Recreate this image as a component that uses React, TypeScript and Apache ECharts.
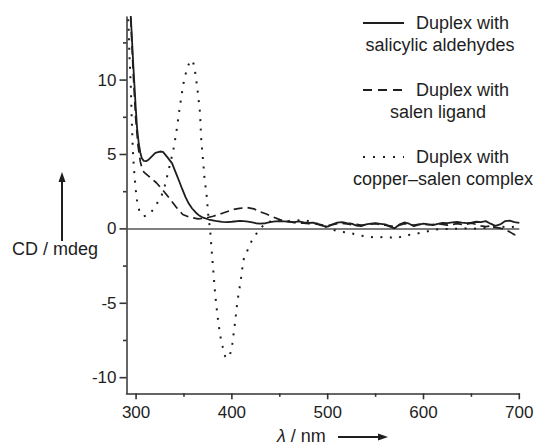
import React, { useEffect, useRef } from "react";
import * as echarts from "echarts";

// wavelength (nm), CD (mdeg)
const salicylicData: [number, number][] = [
  [292, 17], [294.5, 14.26], [297.2, 10.9], [299.5, 8.3], [301, 6.8], [302.8, 5.74], [304.5, 5.1], [306, 4.75],
  [308, 4.57], [310.5, 4.55], [313.3, 4.67], [316.5, 4.88], [320.1, 5.11], [325, 5.2], [328, 5.18], [332.4, 4.84],
  [337.6, 4.4], [341, 3.85], [344.6, 3.27], [348, 2.7], [351.5, 2.15], [355, 1.7], [358.5, 1.37], [362, 1.12],
  [365.4, 0.92], [370, 0.75], [375.9, 0.63], [382.8, 0.54], [389.8, 0.47], [395, 0.45], [400, 0.48], [408.6, 0.54],
  [415, 0.5], [420, 0.45], [425, 0.38], [429.4, 0.36], [435, 0.38], [440, 0.45], [445, 0.5],
  [450, 0.52], [455, 0.5], [460, 0.48], [465, 0.46], [470, 0.5], [475, 0.44], [480, 0.4], [485, 0.42], [490, 0.3],
  [495, 0.2], [500, 0.15], [505, 0.3], [510, 0.42], [515, 0.45], [520, 0.38], [525, 0.35], [530, 0.22], [535, 0.18],
  [540, 0.3], [545, 0.36], [550, 0.38], [555, 0.34], [560, 0.3], [565, 0.15], [570, 0.04], [575, 0.3], [580, 0.43],
  [585, 0.35], [590, 0.18], [595, 0.28], [600, 0.36], [605, 0.3], [610, 0.25], [615, 0.33], [620, 0.4], [625, 0.38],
  [630, 0.44], [635, 0.47], [640, 0.42], [645, 0.38], [650, 0.42], [655, 0.48], [660, 0.45], [665, 0.52], [670, 0.35],
  [675, 0.2], [680, 0.3], [685, 0.52], [690, 0.55], [695, 0.45], [700, 0.4],
];

const salenData: [number, number][] = [
  [292, 17], [294.5, 14], [297, 10.5], [299.5, 7.5], [302, 5.6], [304.5, 4.5], [306.5, 4.0], [308.4, 3.8],
  [315, 3.45], [321.2, 3.1], [328, 2.6], [335, 2.04], [342, 1.45], [348.7, 0.97], [356, 0.78], [364.7, 0.67],
  [372, 0.72], [380.4, 0.85], [390, 1.05], [401.3, 1.3], [408, 1.38], [415.9, 1.44], [423, 1.35], [429.4, 1.15],
  [436, 1.0], [443, 0.8], [450, 0.62], [455, 0.52],
  [460, 0.48], [465, 0.42], [470, 0.4], [475, 0.38], [480, 0.35], [485, 0.36], [490, 0.32], [495, 0.25], [500, 0.22],
  [505, 0.28], [510, 0.35], [515, 0.38], [520, 0.33], [525, 0.28], [530, 0.3], [535, 0.25], [540, 0.28], [545, 0.32],
  [550, 0.35], [555, 0.28], [560, 0.25], [565, 0.2], [570, 0.15], [575, 0.25], [580, 0.35], [585, 0.3], [590, 0.25],
  [595, 0.3], [600, 0.32], [605, 0.28], [610, 0.3], [615, 0.35], [620, 0.3], [625, 0.25], [630, 0.3], [635, 0.35],
  [640, 0.3], [645, 0.32], [650, 0.38], [655, 0.3], [660, 0.2], [665, 0.15], [670, 0.2], [675, 0.1], [680, 0.05],
  [685, -0.05], [690, -0.2], [695, -0.4], [700, -0.25],
];

const copperData: [number, number][] = [
  [290, 16], [292, 13.8], [293, 11.8], [294.5, 9.55], [295.5, 7.3], [296.6, 5.3], [297.9, 3.95], [299.7, 2.6],
  [301.4, 1.7], [304.2, 1.03], [308, 0.85], [312.8, 0.92], [316, 1.15], [319.8, 1.48], [323, 1.85], [326.8, 2.27],
  [330, 2.9], [332.7, 3.6], [336, 4.5], [338.9, 5.3], [341.8, 6.4], [345.2, 7.98], [348, 9.2], [350.1, 10.0],
  [352.9, 10.7], [355.5, 11.15], [358.1, 11.35], [360, 11.1], [361.6, 10.56], [363, 9.9], [364.4, 9.2], [366.8, 7.76],
  [367.8, 6.19], [369.6, 4.84], [371.3, 3.5], [373.8, 2.15], [375.5, 0.8], [377.2, 0], [379, -1.55], [380.7, -2.9],
  [382.5, -4.35], [384.9, -5.8], [387.7, -7.15], [390.5, -7.94], [392.9, -8.56], [395.5, -8.7], [398.1, -8.45],
  [400.5, -7.7], [403.3, -6.3], [405.7, -4.9], [409.3, -3.45], [412, -2.1], [417.2, -1.3], [421.8, -0.65],
  [429.4, 0], [436, 0.45], [445, 0.55], [455, 0.5], [465, 0.55], [475, 0.6], [485, 0.45], [495, 0.2], [505, -0.05],
  [513, -0.2], [521.6, -0.24], [532, -0.42], [542.5, -0.53], [551, -0.58], [561.6, -0.53], [571.4, -0.64],
  [581.8, -0.42], [591.2, -0.35], [601.6, -0.2], [612, -0.05], [621, 0.0], [630, -0.02], [640, 0.05], [650, 0.0],
  [660, 0.05], [670, 0.1], [680, 0.15], [690, 0.1], [700, 0.2],
];

// axis ranges and tick sets
const X_MIN = 290, X_MAX = 700;
const Y_MIN = -11.05, Y_MAX = 14.24;
const xMajorTicks = [300, 400, 500, 600, 700];
const xMinorTicks = [350, 450, 550, 650];
const yMajorTicks = [-10, -5, 0, 5, 10];
const yMinorTicks = [-7.5, -2.5, 2.5, 7.5, 12.5];

const legendLine1 = "Duplex with";
const legendLine2 = ["salicylic aldehydes", "salen ligand", "copper\u2013salen complex"];

const FONT = "'Liberation Sans', Arial, sans-serif";
const INK = "#1e1e1e";
const AXIS = "#333";

const W = 537, H = 446;
const G = { left: 126.5, right: 17.7, top: 17, bottom: 52.7 };
const MAJOR_X = 6, MINOR_X = 3.5, MAJOR_Y = 7, MINOR_Y = 3.5;

export default function App() {
  const ref = useRef<HTMLDivElement>(null);
  useEffect(() => {
    if (!ref.current) return;
    const chart = echarts.init(ref.current, null, { renderer: "svg" });

    const lineBase = { type: "line", showSymbol: false, symbol: "none", xAxisIndex: 0, yAxisIndex: 0, smooth: false };
    const legendYs = [23, 90, 157];
    const legendDash: any[] = [null, [9, 6], [2, 8]];
    const legendCenters = [440, 438, 443];
    const graphics: any[] = [];
    legendYs.forEach((y, i) => {
      graphics.push({
        type: "line",
        shape: { x1: 363, y1: y, x2: 404, y2: y },
        style: { stroke: INK, lineWidth: i === 2 ? 2 : 1.8, lineDash: legendDash[i] || undefined },
      });
      graphics.push({
        type: "text",
        x: 416,
        y: y,
        style: { text: legendLine1, font: `18px ${FONT}`, fill: INK, verticalAlign: "middle", align: "left" },
      });
      graphics.push({
        type: "text",
        x: legendCenters[i],
        y: y + 22,
        style: { text: legendLine2[i], font: `18px ${FONT}`, fill: INK, verticalAlign: "middle", align: "center" },
      });
    });
    // y axis name with arrow
    graphics.push({
      type: "text",
      x: 12,
      y: 249,
      style: { text: "CD / mdeg", font: `18px ${FONT}`, fill: INK, verticalAlign: "middle", align: "left" },
    });
    graphics.push({ type: "line", shape: { x1: 62, y1: 241, x2: 62, y2: 180 }, style: { stroke: INK, lineWidth: 2 } });
    graphics.push({ type: "polygon", shape: { points: [[58.5, 182], [62, 172], [65.5, 182]] }, style: { fill: INK } });
    // x axis name with arrow
    graphics.push({
      type: "text",
      x: 277,
      y: 436,
      style: {
        text: "{i|\u03bb} / nm",
        font: `18px ${FONT}`,
        fill: INK,
        verticalAlign: "middle",
        align: "left",
        rich: { i: { fontStyle: "italic", fontSize: 18, fontFamily: FONT, fill: INK } },
      },
    });
    graphics.push({ type: "line", shape: { x1: 338, y1: 437, x2: 380, y2: 437 }, style: { stroke: INK, lineWidth: 2 } });
    graphics.push({ type: "polygon", shape: { points: [[378, 433.5], [388, 437], [378, 440.5]] }, style: { fill: INK } });

    const xTickData = [...xMajorTicks.map((v) => [v, MAJOR_X]), ...xMinorTicks.map((v) => [v, MINOR_X])];
    const yTickData = [...yMajorTicks.map((v) => [v, MAJOR_Y]), ...yMinorTicks.map((v) => [v, MINOR_Y])];

    chart.setOption({
      animation: false,
      backgroundColor: "#ffffff",
      grid: { left: G.left, right: G.right, top: G.top, bottom: G.bottom, containLabel: false },
      xAxis: {
        type: "value", min: X_MIN, max: X_MAX, position: "bottom",
        axisLine: { show: true, onZero: false, lineStyle: { color: AXIS, width: 1.5 } },
        axisTick: { show: false },
        axisLabel: { show: true, customValues: xMajorTicks, margin: 11, fontSize: 17, fontFamily: FONT, color: INK },
        splitLine: { show: false },
      },
      yAxis: {
        type: "value", min: Y_MIN, max: Y_MAX, position: "left",
        axisLine: { show: true, onZero: false, lineStyle: { color: AXIS, width: 1.5 } },
        axisTick: { show: false },
        axisLabel: { show: true, customValues: yMajorTicks, margin: 10, fontSize: 17, fontFamily: FONT, color: INK },
        splitLine: { show: false },
      },
      series: [
        {
          ...lineBase,
          name: "Duplex with salicylic aldehydes",
          data: salicylicData,
          lineStyle: { color: INK, width: 1.8, type: "solid" },
          z: 4,
          markLine: {
            silent: true,
            symbol: "none",
            label: { show: false },
            lineStyle: { color: "#555", width: 1.6, type: "solid" },
            data: [{ yAxis: 0 }],
            z: 1,
          },
        },
        {
          ...lineBase,
          name: "Duplex with salen ligand",
          data: salenData,
          lineStyle: { color: INK, width: 1.7, type: [9, 5] },
          z: 3,
        },
        {
          ...lineBase,
          name: "Duplex with copper-salen complex",
          data: copperData,
          lineStyle: { color: INK, width: 2, type: [2, 7.5] },
          z: 3,
        },
        {
          type: "custom",
          name: "xTicks",
          silent: true,
          clip: false,
          data: xTickData,
          encode: { x: 0 },
          renderItem: (_p: any, api: any) => {
            const pt = api.coord([api.value(0), Y_MIN]);
            return {
              type: "line",
              shape: { x1: pt[0], y1: pt[1], x2: pt[0], y2: pt[1] + api.value(1) },
              style: { stroke: AXIS, lineWidth: 1.6, fill: null },
            };
          },
        },
        {
          type: "custom",
          name: "yTicks",
          silent: true,
          clip: false,
          data: yTickData,
          encode: { y: 0 },
          renderItem: (_p: any, api: any) => {
            const pt = api.coord([X_MIN, api.value(0)]);
            return {
              type: "line",
              shape: { x1: pt[0] - api.value(1), y1: pt[1], x2: pt[0], y2: pt[1] },
              style: { stroke: AXIS, lineWidth: 1.6, fill: null },
            };
          },
        },
      ],
      graphic: graphics,
    });

    return () => chart.dispose();
  }, []);
  return <div ref={ref} style={{ position: "absolute", left: 0, top: 0, width: W, height: H }} />;
}
